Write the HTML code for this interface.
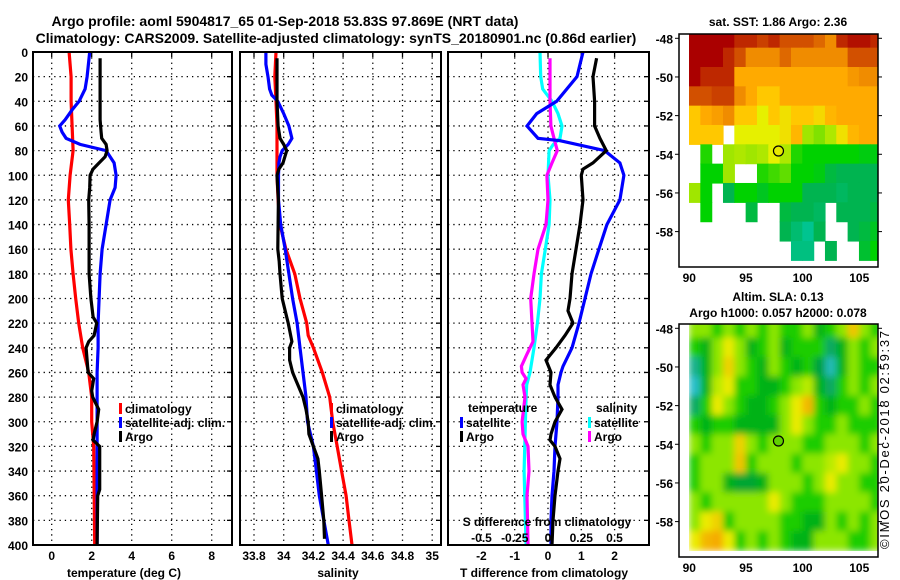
<!DOCTYPE html>
<html><head><meta charset="utf-8">
<style>
html,body{margin:0;padding:0;background:#fff;}
svg{display:block;font-family:"Liberation Sans",sans-serif;font-weight:bold;}
</style></head>
<body>
<svg id="c" width="900" height="580" viewBox="0 0 900 580" xmlns="http://www.w3.org/2000/svg">
<defs>
<clipPath id="cp1"><rect x="33" y="52" width="199" height="493"/></clipPath>
<clipPath id="cp2"><rect x="240" y="52" width="201" height="493"/></clipPath>
<clipPath id="cp3"><rect x="448" y="52" width="201" height="493"/></clipPath>
<clipPath id="cpm1"><rect x="679" y="34" width="199" height="233"/></clipPath>
<clipPath id="cpm2"><rect x="688" y="324" width="190" height="233"/></clipPath>
<filter id="blur" x="0" y="0" width="1" height="1"><feGaussianBlur stdDeviation="3.5" edgeMode="duplicate"/></filter>
</defs>
<text x="285" y="26" font-size="14" text-anchor="middle">Argo profile: aoml 5904817_65 01-Sep-2018 53.83S 97.869E (NRT data)</text>
<text x="336" y="43" font-size="14" text-anchor="middle">Climatology: CARS2009. Satellite-adjusted climatology: synTS_20180901.nc (0.86d earlier)</text>
<g id="g"></g>
</svg>
<script>
// ---------- data ----------
const depthRedT = [0,20,40,60,80,100,120,140,160,180,200,220,240,260,280,300,310,320,400];
const redT      = [0.87,0.97,0.97,1.02,1.07,0.92,0.83,0.9,0.96,1.07,1.2,1.35,1.55,1.85,2.0,2.0,2.05,2.1,2.15];
const depthBlueT = [0,20,30,40,47,55,60,65,70,75,80,90,100,110,120,140,160,180,200,220,240,260,280,400];
const blueT      = [1.9,1.77,1.67,1.37,1.02,0.67,0.4,0.52,0.72,1.42,2.72,3.12,3.22,3.17,2.92,2.72,2.52,2.42,2.37,2.32,2.32,2.27,2.27,2.27];
const depthArgoT = [5,55,65,70,75,80,85,90,95,100,110,120,140,160,180,200,215,220,230,235,240,260,265,275,280,290,300,310,315,320,355,360,400];
const argoT      = [2.42,2.42,2.47,2.5,2.72,2.77,2.67,2.37,2.07,1.92,1.9,1.85,1.87,1.87,1.87,1.96,2.07,2.25,2.12,1.85,1.72,1.82,2.1,2.0,2.05,2.35,2.27,2.12,2.07,2.4,2.4,2.3,2.27];

const depthRedS = [0,20,40,60,100,120,140,160,180,200,220,230,240,260,280,300,320,340,360,380,400];
const redS      = [33.948,33.94,33.948,33.955,33.955,33.962,33.975,34.015,34.075,34.11,34.155,34.165,34.2,34.26,34.31,34.33,34.36,34.39,34.42,34.44,34.46];
const depthBlueS = [0,10,20,30,35,40,50,60,70,75,80,85,90,100,120,140,160,180,200,220,240,260,280,300,320,340,360,380,400];
const blueS      = [33.88,33.88,33.894,33.905,33.92,33.96,34.0,34.035,34.055,34.03,33.99,33.975,33.968,33.965,33.965,33.98,34.01,34.035,34.06,34.09,34.11,34.13,34.15,34.16,34.2,34.22,34.24,34.27,34.3];
const depthArgoS = [5,40,60,70,75,80,90,95,100,120,140,160,170,180,200,215,220,235,240,250,260,270,280,290,300,310,320,330,340,360,380,395];
const argoS      = [33.955,33.955,33.962,33.975,34.0,34.02,33.995,33.968,33.955,33.964,33.962,33.96,33.97,33.975,33.99,34.02,34.03,34.055,34.04,34.04,34.06,34.095,34.13,34.15,34.165,34.17,34.2,34.23,34.24,34.255,34.27,34.275];

const depthDT = [0,20,40,50,60,70,72,80,90,100,120,140,160,180,200,220,240,255,260,270,280,300,320,340,360,380,400];
const satDT   = [1.05,0.87,0.26,-0.34,-0.63,-0.3,0.36,1.7,2.16,2.28,2.16,1.77,1.53,1.29,1.11,0.93,0.72,0.45,0.39,0.3,0.3,0.27,0.21,0.18,0.12,0.09,0.09];
const depthArgoDT = [5,20,40,60,70,80,90,95,100,120,140,160,180,200,210,220,230,240,250,260,270,280,290,300,310,315,320,330,340,360,380,400];
const argoDT      = [1.46,1.35,1.4,1.4,1.56,1.75,1.35,1.05,1.0,1.05,0.96,0.84,0.72,0.66,0.6,0.75,0.51,0.24,-0.06,0.09,0.06,0.21,0.42,0.21,0.09,0.06,0.21,0.36,0.3,0.21,0.15,0.12];
const depthDS = [0,20,30,40,50,60,70,75,80,100,120,140,160,180,200,220,240,260,270,280,300,340,380,400];
const satDS   = [-0.06,-0.055,-0.04,0.03,0.075,0.105,0.09,0.04,0.008,0,0.015,0.008,-0.02,-0.05,-0.06,-0.08,-0.105,-0.135,-0.16,-0.165,-0.17,-0.18,-0.17,-0.165];
const depthArgoDS = [5,40,60,70,80,90,100,120,140,160,180,200,220,235,245,255,260,265,270,280,300,310,320,340,360,400];
const argoDS      = [0.015,0.015,0.022,0.045,0.07,0.03,-0.008,0,-0.015,-0.075,-0.105,-0.13,-0.12,-0.113,-0.158,-0.2,-0.195,-0.165,-0.188,-0.173,-0.195,-0.188,-0.15,-0.143,-0.158,-0.15];

const yTicks = [0,20,40,60,80,100,120,140,160,180,200,220,240,260,280,300,320,340,360,380,400];
const tTicks = [0,2,4,6,8];
const sTicks = [33.8,34,34.2,34.4,34.6,34.8,35];
const sTickLabels = ["33.8","34","34.2","34.4","34.6","34.8","35"];
const dTTicks = [-2,-1,0,1,2];
const dSTicks = [-0.5,-0.25,0,0.25,0.5];
const dSTickLabels = ["-0.5","-0.25","0","0.25","0.5"];
const latTicks = [-48,-50,-52,-54,-56,-58];
const lonTicks = [90,95,100,105];
const argoLon = 97.87, argoLat = -53.83;

// SST map (deg C), lon 90..106, lat -48..-59, null = no data
const N = null;
const sstRows = [
[6,6,6,6,5.5,5.5,5.2,5.5,5,5,5,4.8,4.5,5.5,5.8,5.8,5.5],
[6,6,6,5.5,5,4.5,4.5,4.5,4.8,4.5,4.5,4.5,4.5,4.5,5,5,5],
[6,5.5,5.5,5.5,4,4,4,4,4,4,4,4,4,4,4.3,4.5,4.5],
[5,5,5.2,5.2,4.5,4,3.5,3.5,4,4,4,4,4,4,4,4,4],
[3.5,4,4.2,4.5,3.5,3.5,3,3.5,3.2,3.5,3.5,3.3,3.8,4,4,4,4],
[3.5,3.5,3.5,N,3,3,3,3,3.2,3.8,2.5,2.4,2.6,3.2,3.8,4,4],
[N,2.1,N,2.5,2.6,2.5,2.6,3,2.6,2.1,2,2,2,2,2,1.9,1.9],
[N,2,2,2.5,N,N,2.1,2.2,2.3,2,2,1.9,1.6,1.5,1.5,1.5,1.5],
[2.5,2,N,1.5,2,2,1.8,2,2,2,1.5,1.5,1.5,1.4,1.5,1.5,1.5],
[N,2,N,N,N,1.6,N,N,1.6,1.5,1.5,1.4,N,1.5,1.5,1.5,1.6],
[N,N,N,N,N,N,N,N,1.5,1.3,1.1,1.5,N,N,1.5,1.6,1.8],
[N,N,N,N,N,N,N,N,N,1.2,1.2,N,1.5,N,N,1.7,2]
];
// SLA map (m)
const slaRows = [
[0.05,0.05,0,0.05,0,0.05,0,0.05,0,0,0.05,-0.05,0,0.05,0.13,0.05,0],
[0,-0.05,0.05,0.1,0.05,-0.05,0,0.05,-0.05,0,0,0,-0.1,-0.05,0.05,0,0.05],
[-0.12,-0.05,0.05,0.12,0.05,0,-0.05,0.05,0,-0.05,0,-0.08,-0.14,-0.05,0.05,0,0],
[-0.15,-0.05,0.07,0.1,0,0,-0.05,-0.05,0,0.05,0.07,-0.05,-0.1,0,0.05,0,0.05],
[-0.1,0,0.1,0.05,0,-0.05,-0.05,0,0.05,0.1,0.14,0,-0.05,0,0,0.05,0],
[0,-0.05,0,0,-0.05,-0.05,-0.05,-0.05,0.05,0.1,0.05,0,0,0.05,0,0,0],
[0.05,0,0.05,0.05,0.12,0.05,0,0.05,0.05,0.05,0,0,0.05,0.05,0.05,0,0.05],
[0,0.05,0.05,0.05,0.13,0,0.05,0.05,0.05,0,0.05,0.05,0.07,0.1,0.05,0.05,0],
[0,0.05,0.05,-0.05,-0.07,-0.07,-0.05,0.05,0.05,0.05,0,0.05,0.1,0.05,0.05,0,0],
[0.05,0,0.05,0.05,0.05,0.05,0.05,0.1,0.05,0,0,0,0.05,0.05,0.05,0.05,0],
[0.05,0.1,0.12,0,0.05,0.05,0.05,0.05,0,0,-0.05,-0.05,0.05,0,0.05,0,0.05],
[0.1,0.14,0.15,0.1,0,0.05,0,0.05,0,-0.05,-0.05,0.05,0.05,0.05,0,0,0.05]
];

// ---------- helpers ----------
const NS = "http://www.w3.org/2000/svg";
const G = document.getElementById('g');
function el(tag, attrs, parent){ const e=document.createElementNS(NS,tag); for(const k in attrs) e.setAttribute(k,attrs[k]); (parent||G).appendChild(e); return e; }
function txt(x,y,s,anchor,size,parent){ const t=el('text',{x:x,y:y,'font-size':size||12,'text-anchor':anchor||'middle'},parent); t.textContent=s; return t; }

const yTop=52, yBot=545;
const yD = d => yTop + d*(yBot-yTop)/400;
const x1 = v => 51.7 + v*20;
const x2 = v => 254 + (v-33.8)*148.5;
const x3 = v => 548 + v*33.3;
const x3s = v => 548 + v*133;

function panel(name){
  const g = el('g',{});
  
  
  return g;
}
function grid(g, L, R, xs){
  yTicks.forEach(d=>{ if(d>0&&d<400){ el('line',{x1:L,x2:R,y1:yD(d),y2:yD(d),stroke:'#000','stroke-width':1.3,'stroke-dasharray':'1.3,4'},g);
    el('line',{x1:R-5,x2:R,y1:yD(d),y2:yD(d),stroke:'#000','stroke-width':1.3},g);} });
  xs.forEach(x=>{ el('line',{x1:x,x2:x,y1:yTop,y2:yBot,stroke:'#000','stroke-width':1.3,'stroke-dasharray':'1.3,4'},g);
    el('line',{x1:x,x2:x,y1:yTop,y2:yTop+5,stroke:'#000','stroke-width':1.3},g); });
}
function frame(g,L,R){ el('rect',{x:L,y:yTop,width:R-L,height:yBot-yTop,fill:'none',stroke:'#000','stroke-width':2},g); }
function series(g, depths, vals, xf, color, clip, name){
  const pts = depths.map((d,i)=>xf(vals[i]).toFixed(1)+','+yD(d).toFixed(1)).join(' ');
  const p = el('polyline',{points:pts,fill:'none',stroke:color,'stroke-width':3.2,'clip-path':'url(#'+clip+')','stroke-linejoin':'miter'},g);
  
  
}
function legendEntry(g,x,y,color,label,name){
  const e = el('g',{},g);
  
  
  el('rect',{x:x,y:y-10,width:3,height:11,fill:color},e);
  txt(x+6,y,label,'start',12,e);
}

yTicks.forEach(d=>{ txt(28,yD(d)+5,String(d),'end',12); });

// ---------- panel 1 ----------
const p1 = panel('temperature-panel');
grid(p1,33,232,tTicks.map(x1));
series(p1,depthRedT,redT,x1,'#ff0000','cp1','climatology-temperature-line');
series(p1,depthBlueT,blueT,x1,'#0000ff','cp1','satellite-temperature-line');
series(p1,depthArgoT,argoT,x1,'#000000','cp1','argo-temperature-line');
frame(p1,33,232);
tTicks.forEach(v=>txt(x1(v),560,String(v),'middle',12,p1));
txt(124,577,'temperature (deg C)','middle',12,p1);
legendEntry(p1,119,413,'#ff0000','climatology','legend-climatology');
legendEntry(p1,119,427,'#0000ff','satellite-adj. clim.','legend-satellite-adj');
legendEntry(p1,119,441,'#000000','Argo','legend-argo');

// ---------- panel 2 ----------
const p2 = panel('salinity-panel');
grid(p2,240,441,sTicks.map(x2));
series(p2,depthRedS,redS,x2,'#ff0000','cp2','climatology-salinity-line');
series(p2,depthBlueS,blueS,x2,'#0000ff','cp2','satellite-salinity-line');
series(p2,depthArgoS,argoS,x2,'#000000','cp2','argo-salinity-line');
frame(p2,240,441);
sTicks.forEach((v,i)=>txt(x2(v),560,sTickLabels[i],'middle',12,p2));
txt(338,577,'salinity','middle',12,p2);
legendEntry(p2,330,413,'#ff0000','climatology','legend-climatology-2');
legendEntry(p2,330,427,'#0000ff','satellite-adj. clim.','legend-satellite-adj-2');
legendEntry(p2,330,441,'#000000','Argo','legend-argo-2');

// ---------- panel 3 ----------
const p3 = panel('difference-panel');
grid(p3,448,649,dTTicks.map(x3));
series(p3,depthDS,satDS,x3s,'#00ffff','cp3','satellite-salinity-diff-line');
series(p3,depthArgoDS,argoDS,x3s,'#ff00ff','cp3','argo-salinity-diff-line');
series(p3,depthDT,satDT,x3,'#0000ff','cp3','satellite-temperature-diff-line');
series(p3,depthArgoDT,argoDT,x3,'#000000','cp3','argo-temperature-diff-line');
frame(p3,448,649);
dTTicks.forEach(v=>txt(x3(v),560,String(v),'middle',12,p3));
dSTicks.forEach((v,i)=>txt(x3s(v),542,dSTickLabels[i],'middle',12,p3));
txt(547,526,'S difference from climatology','middle',12,p3);
txt(544,577,'T difference from climatology','middle',12,p3);
txt(468,412,'temperature','start',12,p3);
txt(596,412,'salinity','start',12,p3);
legendEntry(p3,460,427,'#0000ff','satellite','legend-t-satellite');
legendEntry(p3,460,441,'#000000','Argo','legend-t-argo');
legendEntry(p3,588,427,'#00ffff','satellite','legend-s-satellite');
legendEntry(p3,588,441,'#ff00ff','Argo','legend-s-argo');

// ---------- maps ----------
function lerpColor(stops, v){
  if(v<=stops[0][0]) return stops[0][1];
  for(let i=1;i<stops.length;i++){ if(v<=stops[i][0]){ const a=stops[i-1],b=stops[i],t=(v-a[0])/(b[0]-a[0]);
    return a[1].map((x,k)=>Math.round(x+(b[1][k]-x)*t)); } }
  return stops[stops.length-1][1];
}
const sstStops=[[1,[0,200,160]],[1.5,[0,180,80]],[2,[0,210,0]],[2.5,[160,230,0]],[3,[230,240,0]],[3.5,[255,200,0]],[4,[255,170,0]],[4.5,[240,140,0]],[5,[210,80,0]],[5.5,[190,40,0]],[6,[170,0,0]]];
const slaStops=[[-0.15,[40,190,200]],[-0.08,[0,160,60]],[-0.03,[0,190,0]],[0.02,[50,215,0]],[0.06,[170,235,0]],[0.1,[235,235,0]],[0.15,[245,170,0]]];

function map(name, L, R, T, B, rows, stops, clip, dotColor, blur){
  const g = el('g',{});
  
  
  const lonX = lon => 689.3 + (lon-90)*11.33;
  const latY = lat => T + 4.3 + (-48-lat)*19.33;
  const cells = el('g',{'clip-path':'url(#'+clip+')'},g);
  const inner = el('g', blur?{filter:'url(#blur)'}:{}, cells);
  rows.forEach((row,r)=>row.forEach((v,c)=>{
    if(v===null) return;
    const col = lerpColor(stops,v);
    const cell = el('rect',{x:lonX(90+c)-0.3,y:latY(-48-r+0.5)-0.3,width:11.93,height:19.93,fill:'rgb('+col.join(',')+')'},inner);
    
    
  }));
  el('rect',{x:L,y:T,width:R-L,height:B-T,fill:'none',stroke:'#000','stroke-width':1.5},g);
  latTicks.forEach(l=>{ txt(L-6,latY(l)+5,String(l),'end',12,g); el('line',{x1:L-4,x2:L,y1:latY(l),y2:latY(l),stroke:'#000'},g); el('line',{x1:R,x2:R+4,y1:latY(l),y2:latY(l),stroke:'#000'},g); });
  lonTicks.forEach(l=>{ txt(lonX(l),B+15,String(l),'middle',12,g); });
  const dot = el('circle',{cx:lonX(argoLon),cy:latY(argoLat),r:5,fill:dotColor,stroke:'#000','stroke-width':1.2},g);
  
  
  return g;
}
map('sst-map',679,878,34,267,sstRows,sstStops,'cpm1','#e8e800',false);
txt(778,26,'sat. SST: 1.86 Argo: 2.36','middle',12);
map('sla-map',679,878,324,557,slaRows,slaStops,'cpm2','#60d000',true);
txt(778,301,'Altim. SLA: 0.13','middle',12);
txt(778,317,'Argo h1000: 0.057 h2000: 0.078','middle',12);
const cr = txt(0,0,'©IMOS 20-Dec-2018 02:59:37','middle',13);
cr.setAttribute('transform','translate(889,440) rotate(-90)');
cr.setAttribute('font-weight','normal');
cr.setAttribute('textLength','218');

</script>
</body></html>
